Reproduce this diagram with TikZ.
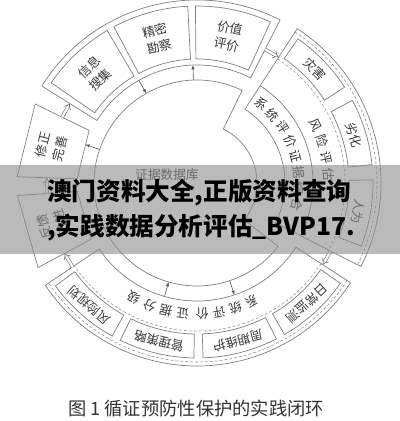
\documentclass[tikz,border=0pt]{standalone}
\usepackage{fontspec}
\newfontfamily\cjk{Noto Sans CJK SC}
\usetikzlibrary{arrows.meta,calc,positioning}

% annular sector: [style]{from}{to}{inner r}{outer r}
\newcommand{\ringbox}[5][ring]{%
  \draw[#1] (#2:#4) arc[start angle=#2, end angle=#3, radius=#4]
    -- (#3:#5) arc[start angle=#3, end angle=#2, radius=#5] -- cycle;}

\begin{document}
\begin{tikzpicture}[x=0.025cm, y=0.025cm,
    ring/.style={draw=black!50, line width=0.5pt},
    dashring/.style={draw=black!45, line width=0.4pt, dash pattern=on 2pt off 1.5pt},
    lbl/.style={font=\cjk\fontsize{9}{12}\selectfont, text=black!78, align=center, inner sep=0pt},
    flow/.style={draw=black!55, double=white, double distance=1.6pt, line width=0.45pt, -{Implies}},
    link/.style={draw=black!65, line width=0.45pt, -{Latex[length=3pt, width=2.4pt]}},
    banner/.style={fill=black!45, opacity=0.6},
    big/.style={font=\cjk\bfseries\fontsize{17.5}{20}\selectfont, anchor=west, inner sep=0pt},
  ]
  \useasboundingbox (-197,-238) rectangle (203,183);

  % evidence database
  \draw[ring] (64:103) arc[start angle=64, end angle=322, radius=103]
    -- (322:60) arc[start angle=-38, end angle=64, radius=60] -- cycle;
  \node[lbl] (db) at (-30,8) {证据数据库};

  % search and assessment
  \ringbox{63}{148}{118}{183}
  \ringbox{120.5}{145.5}{124}{177}
  \ringbox{93}{118}{124}{177}
  \ringbox{65.5}{90.5}{124}{177}
  \node[lbl, rotate=43] (info) at (133:150) {信息\\搜集};
  \node[lbl, rotate=15.5] (survey) at (105.5:150) {精密\\勘察};
  \node[lbl, rotate=-12] (value) at (78:150) {价值\\评价};

  % risk assessment
  \ringbox{-27}{57}{88}{184}
  \draw[ring] (57:116) arc[start angle=57, end angle=-27, radius=116];
  \draw[dashring] (57:148) arc[start angle=57, end angle=-27, radius=148];
  \draw[dashring] (57:180) arc[start angle=57, end angle=-27, radius=180];
  \ringbox{33}{55}{152}{176}
  \ringbox{6}{28}{152}{176}
  \ringbox{-21}{1}{152}{176}
  \node[lbl, rotate=-46] (disaster) at (44:164) {灾害};
  \node[lbl, rotate=-73] (decay) at (17:164) {劣化};
  \node[lbl, rotate=-100] (human) at (-10:164) {人为};
  \foreach \c [count=\i] in {风,险,评,估}
    \node[lbl, rotate=26-7.5*\i-82.5] (risk\i) at ({33.5-7.5*\i}:132) {\c};
  \foreach \c [count=\i] in {系,统,评,价,证,据,综,合}
    \node[lbl, rotate=51-9*\i-81] (review\i) at ({60-9*\i}:102) {\c};

  % monitoring and maintenance
  \ringbox{-146}{-33}{118}{183}
  \draw[dashring] (-33:148) arc[start angle=-33, end angle=-146, radius=148];
  \draw[dashring] (-33:179) arc[start angle=-33, end angle=-146, radius=179];
  \ringbox{-60}{-35}{151}{175}
  \ringbox{-88}{-63}{151}{175}
  \ringbox{-116}{-91}{151}{175}
  \ringbox{-144}{-119}{151}{175}
  \node[lbl, rotate=-137.5] (monitor) at (-47.5:163) {日常监测};
  \node[lbl, rotate=-165.5] (upkeep) at (-75.5:163) {周期维护};
  \node[lbl, rotate=-193.5] (policy) at (-103.5:163) {管理策略};
  \node[lbl, rotate=-221.5] (plan) at (-131.5:163) {风险规划};
  \foreach \c [count=\i] in {系,统,评,价}
    \node[lbl, rotate=-57.75-7.5*\i-90] (sys\i) at ({-57.75-7.5*\i}:131) {\c};
  \foreach \c [count=\i] in {证,据,分,级}
    \node[lbl, rotate=-88.75-7.5*\i-90] (grade\i) at ({-88.75-7.5*\i}:131) {\c};

  % revision
  \draw[ring] (154:180) -- (178:180) -- (178:120) -- (154:120) -- cycle;
  \node[lbl, rotate=76] (revise) at (166:150) {修正\\完善};
  \draw[ring] (184:180) -- (208:180) -- (208:120) -- (184:120) -- cycle;
  \node[lbl, rotate=106] (feedback) at (196:150) {反馈\\改进};

  % loop
  \coordinate (topS) at (148:150);
  \coordinate (topE) at (63:150);
  \coordinate (rgtS) at (57:150);
  \coordinate (rgtE) at (-27:150);
  \coordinate (botS) at (-33:150);
  \coordinate (botE) at (-146:150);
  \coordinate (lowS) at (208:150);
  \coordinate (lowE) at (184:150);
  \coordinate (revS) at (178:150);
  \coordinate (revE) at (154:150);
  \draw[flow] (topE) -- (rgtS);
  \draw[flow] (rgtE) -- (botS);
  \draw[flow] (botE) -- (lowS);
  \draw[flow] (lowE) -- (revS);
  \draw[flow] (revE) -- (topS);

  % database links
  \coordinate (infoO) at (119.5:118);  \coordinate (infoI) at (119.5:103);
  \coordinate (valO) at (92:118);      \coordinate (valI) at (92:103);
  \coordinate (monO) at (-71.5:118);   \coordinate (monI) at (-71.5:103);
  \coordinate (grdO) at (-106:118);    \coordinate (grdI) at (-106:103);
  \coordinate (revO) at (161:118);     \coordinate (revI) at (161:103);
  \draw[link] (infoO) -- (infoI);
  \draw[link] (valI) -- (valO);
  \draw[link] (monI) -- (monO);
  \draw[link] (grdO) -- (grdI);
  \draw[link] (revI) -- (revO);

  % banner
  \fill[banner] (-197,18) rectangle (203,-71);
  \node[big] (ad1) at (-150,-10) {澳门资料大全,正版资料查询};
  \node[big] (ad2) at (-150,-45) {,实践数据分析评估\_BVP17.};

  % caption
  \node[font=\cjk\fontsize{13}{15}\selectfont, text=black!80] (cap) at (-1,-226) {图 1 循证预防性保护的实践闭环};
\end{tikzpicture}
\end{document}
